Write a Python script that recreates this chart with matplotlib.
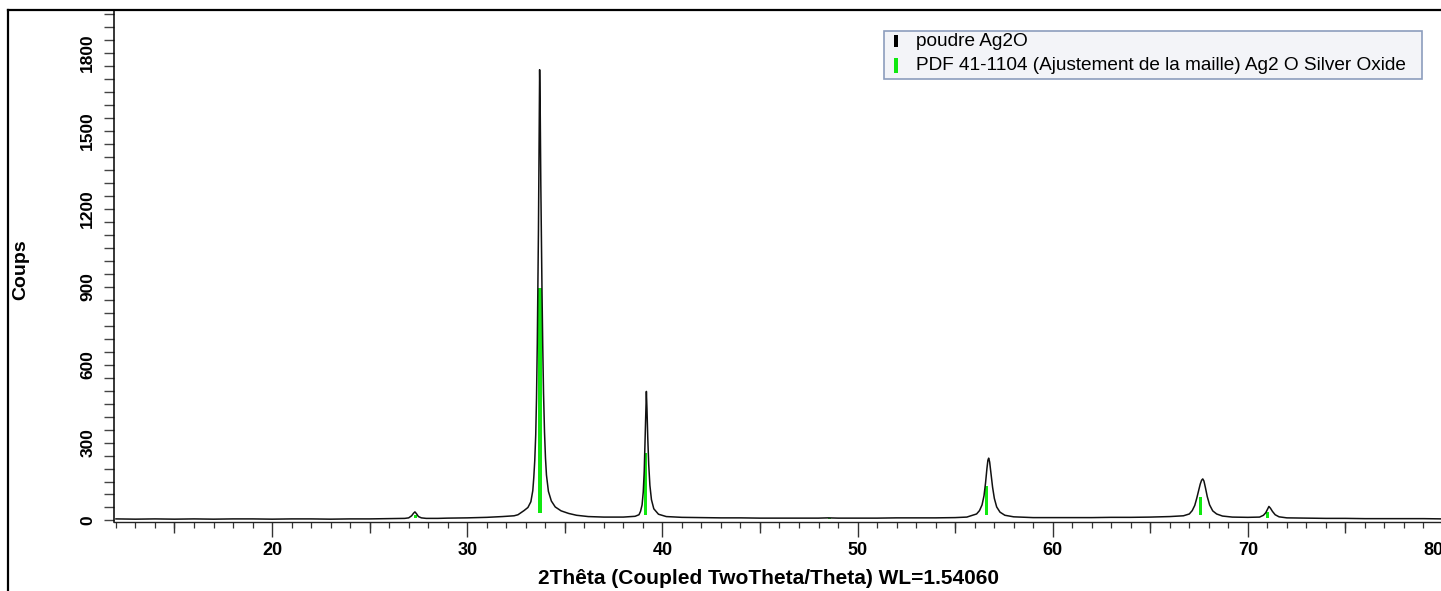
import matplotlib
matplotlib.use("Agg")
import matplotlib.pyplot as plt
from matplotlib.patches import Rectangle
from matplotlib.lines import Line2D
from matplotlib.ticker import MultipleLocator, FixedLocator, NullFormatter

plt.rcParams['font.family'] = ['Liberation Sans', 'DejaVu Sans']

# ---- data ----
two_theta = [12.0, 13, 14, 15, 16, 17, 18, 19, 20, 21, 22, 23, 24, 25, 26, 26.8,
             27.0, 27.15, 27.25, 27.32, 27.4, 27.5, 27.65, 27.9,
             28.5, 29, 30, 31, 31.8, 32.4, 32.6, 32.91,
             33.11, 33.26, 33.36, 33.41, 33.46, 33.51, 33.55, 33.59, 33.62, 33.65, 33.68,
             33.71, 33.74, 33.77, 33.80, 33.83, 33.87, 33.91, 33.96, 34.01, 34.06, 34.16,
             34.31, 34.51, 34.81, 35.2, 35.6, 36.2, 37, 38, 38.6,
             38.8, 38.88, 38.96, 39.02, 39.07, 39.11, 39.15, 39.18, 39.21, 39.25, 39.30,
             39.36, 39.44, 39.56, 39.8, 40.2, 41, 42, 43, 44, 45, 46, 47, 48, 48.5, 49,
             50, 51, 52, 53, 54, 55, 55.6,
             56.1, 56.25, 56.38, 56.48, 56.56, 56.63, 56.68, 56.72, 56.77, 56.84, 56.92,
             57.01, 57.13, 57.3, 57.55, 58, 59, 60, 61, 62, 63, 64, 65, 66, 66.7,
             67.0, 67.15, 67.28, 67.38, 67.48, 67.56, 67.63, 67.69, 67.75, 67.83, 67.92,
             68.04, 68.2, 68.4, 68.7, 69.2, 70, 70.6,
             70.8, 70.92, 71.0, 71.08, 71.16, 71.26, 71.4, 71.6, 72, 73, 74, 75, 76, 77,
             78, 79, 80]
counts = [6, 5, 6, 5, 6, 5, 6, 6, 5, 6, 6, 5, 6, 6, 7, 8,
          10, 18, 28, 33, 26, 15, 10, 8,
          8, 9, 10, 12, 15, 18, 22, 38,
          50, 72, 115, 165, 230, 330, 470, 680, 900, 1120, 1450,
          1736, 1580, 1300, 1080, 890, 670, 490, 340, 240, 175, 112,
          75, 52, 37, 27, 20, 15, 13, 13, 16,
          22, 35, 60, 110, 190, 300, 420, 497, 430, 320, 215,
          135, 80, 45, 24, 15, 12, 11, 10, 10, 9, 9, 9, 9, 10, 9,
          9, 9, 10, 10, 10, 11, 13,
          25, 38, 60, 95, 145, 200, 232, 240, 225, 180, 128,
          85, 52, 32, 20, 14, 11, 11, 11, 11, 12, 12, 13, 15, 18,
          25, 38, 58, 85, 115, 140, 155, 160, 152, 125, 92,
          60, 37, 25, 17, 13, 12, 13,
          20, 30, 42, 54, 47, 35, 22, 14, 10, 9, 8, 8, 7, 7,
          7, 7, 6]

pdf_pos = [27.35, 33.73, 39.15, 48.55, 56.62, 67.57, 71.02]
pdf_top = [20, 896, 259, 8, 132, 89, 31]
pdf_base = [8, 29, 22, 6, 20, 20, 9]

x_ticks = [20, 30, 40, 50, 60, 70, 80]
y_ticks = [0, 300, 600, 900, 1200, 1500, 1800]
legend_labels = ["poudre Ag2O",
                 "PDF 41-1104 (Ajustement de la maille) Ag2 O Silver Oxide"]
x_label = "2Thêta (Coupled TwoTheta/Theta) WL=1.54060"
y_label = "Coups"

# ---- figure ----
W, H = 1441, 591
fig = plt.figure(figsize=(W / 100, H / 100), dpi=100)

def fx(px):
    return px / W

def fy(py):
    return 1 - py / H

ax_l, ax_r, ax_t, ax_b = 114, 1443, 10, 521.5
ax = fig.add_axes([fx(ax_l), fy(ax_b), fx(ax_r - ax_l), (ax_b - ax_t) / H])
ax.set_xlim(11.9, 80.0)
ax.set_ylim(-4, 1966)

green = '#10e810'
heights = [t - b for t, b in zip(pdf_top, pdf_base)]
ax.bar(pdf_pos, heights, bottom=pdf_base, width=0.16, color=green,
       linewidth=0, zorder=2)
ax.plot(two_theta, counts, color='#111111', linewidth=1.1, zorder=3)

for s in ['top', 'right']:
    ax.spines[s].set_visible(False)
ax.spines['left'].set_color('black')
ax.spines['left'].set_linewidth(1.1)
ax.spines['bottom'].set_color('#222222')
ax.spines['bottom'].set_linewidth(1.0)

ax.xaxis.set_major_locator(FixedLocator(x_ticks))
ax.xaxis.set_minor_locator(MultipleLocator(1))
ax.yaxis.set_major_locator(FixedLocator(y_ticks))
ax.yaxis.set_minor_locator(MultipleLocator(50))

ax.tick_params(axis='x', which='major', direction='out', length=11, width=1,
               color='#333333', pad=4, labelsize=13)
ax.tick_params(axis='x', which='minor', direction='out', length=4, width=0.9,
               color='#333333')
ax.tick_params(axis='y', which='major', direction='out', length=7.5, width=1,
               color='#444444', pad=6, labelsize=12.5)
ax.tick_params(axis='y', which='minor', direction='out', length=7.5, width=1,
               color='#444444')
xlabs = ax.get_xticklabels()
for lab in xlabs:
    lab.set_fontweight('bold')
xlabs[-1].set_horizontalalignment('right')
for lab in ax.get_yticklabels():
    lab.set_fontweight('bold')
    lab.set_rotation(90)
    lab.set_va('center')

# intermediate ticks every 5 degrees
sec = ax.secondary_xaxis('bottom')
sec.xaxis.set_major_locator(FixedLocator([15, 25, 35, 45, 55, 65, 75]))
sec.xaxis.set_major_formatter(NullFormatter())
sec.tick_params(axis='x', length=8, width=1, color='#333333')
sec.spines['bottom'].set_visible(False)

# labels
fig.text(fx(768), fy(578), x_label, ha='center', va='center',
         fontsize=15, fontweight='bold')
fig.text(fx(21), fy(270), y_label, ha='center', va='center', rotation=90,
         fontsize=14, fontweight='bold')

# outer frame lines (left and top)
fig.add_artist(Line2D([fx(8), 1.0], [fy(10), fy(10)], transform=fig.transFigure,
                      color='black', linewidth=1.6))
fig.add_artist(Line2D([fx(8), fx(8)], [0.0, fy(10)], transform=fig.transFigure,
                      color='black', linewidth=1.6))

# legend box
lx0, ly0, lx1, ly1 = 884, 31, 1422, 79
fig.add_artist(Rectangle((fx(lx0), fy(ly1)), fx(lx1 - lx0), (ly1 - ly0) / H,
                         transform=fig.transFigure, facecolor='#f3f4f8',
                         edgecolor='#8c9dbd', linewidth=1.2))
fig.add_artist(Rectangle((fx(894), fy(47)), fx(4), 12 / H, transform=fig.transFigure,
                         facecolor='black', edgecolor='none'))
fig.add_artist(Rectangle((fx(894), fy(73)), fx(4), 15 / H, transform=fig.transFigure,
                         facecolor=green, edgecolor='none'))
fig.text(fx(916), fy(41), legend_labels[0], ha='left', va='center', fontsize=13.7)
fig.text(fx(916), fy(65), legend_labels[1], ha='left', va='center', fontsize=13.7)

fig.savefig('out.png', dpi=100)
